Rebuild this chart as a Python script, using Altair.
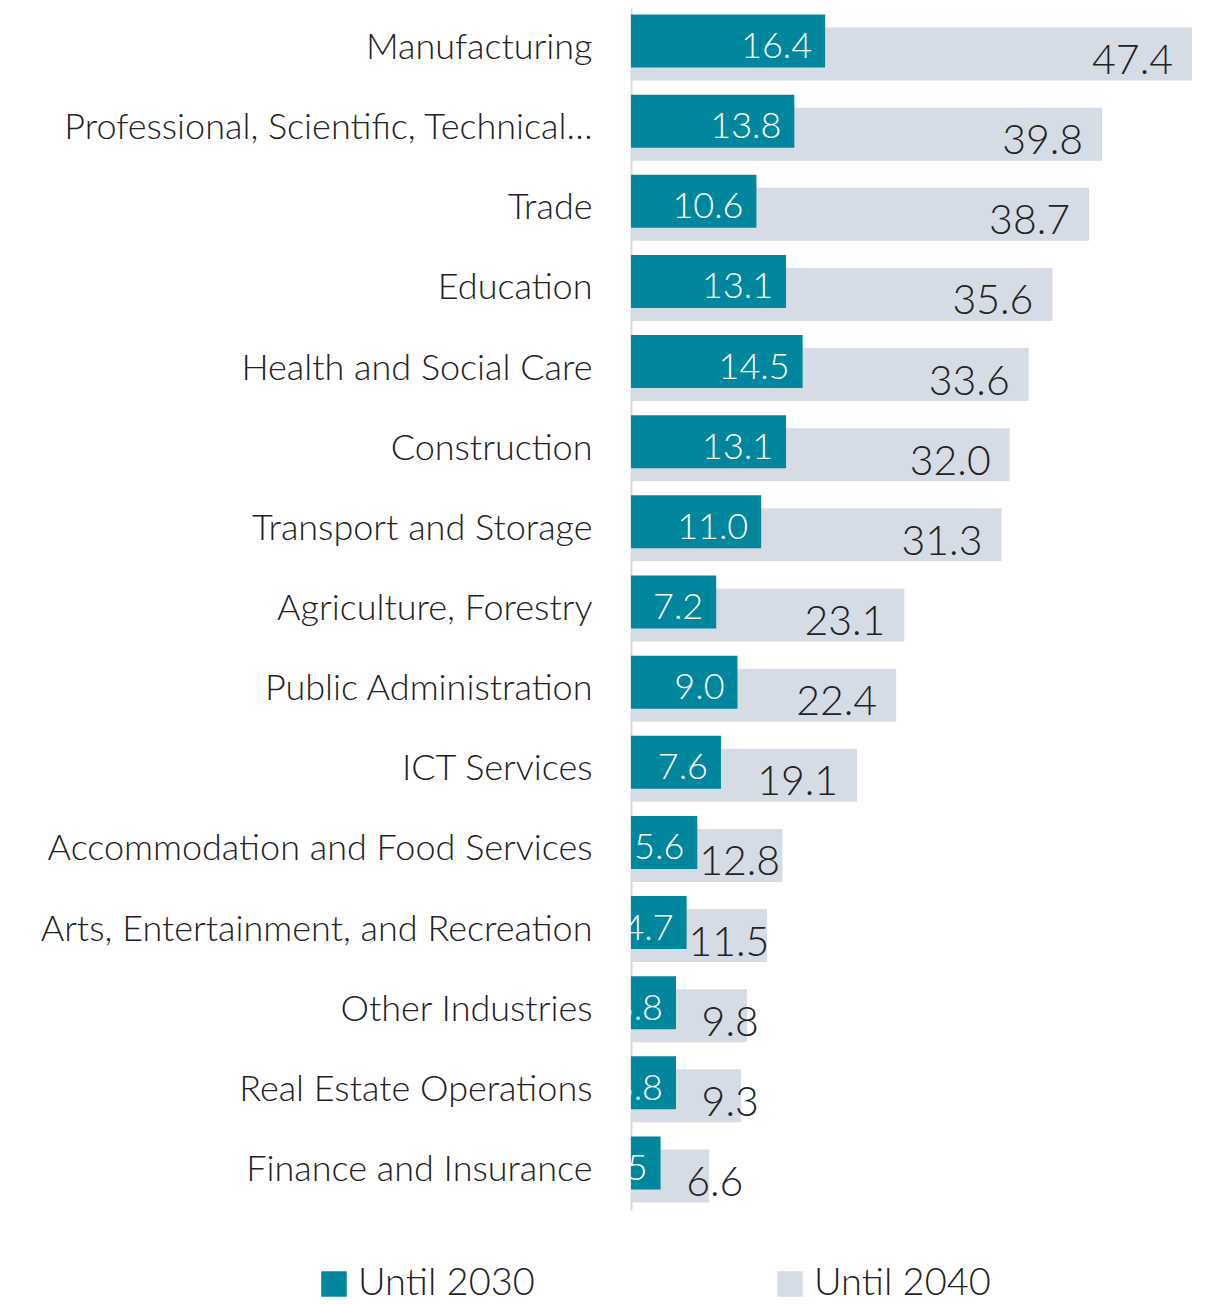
import altair as alt
import pandas as pd

categories = [
    "Manufacturing",
    "Professional, Scientific, Technical…",
    "Trade",
    "Education",
    "Health and Social Care",
    "Construction",
    "Transport and Storage",
    "Agriculture, Forestry",
    "Public Administration",
    "ICT Services",
    "Accommodation and Food Services",
    "Arts, Entertainment, and Recreation",
    "Other Industries",
    "Real Estate Operations",
    "Finance and Insurance",
]
until_2030 = [16.4, 13.8, 10.6, 13.1, 14.5, 13.1, 11.0, 7.2, 9.0, 7.6, 5.6, 4.7, 3.8, 3.8, 2.5]
until_2040 = [47.4, 39.8, 38.7, 35.6, 33.6, 32.0, 31.3, 23.1, 22.4, 19.1, 12.8, 11.5, 9.8, 9.3, 6.6]
series = ["Until 2030", "Until 2040"]
colors = ["#00879d", "#d6dce5"]

df = pd.DataFrame({"cat": categories, "v30": until_2030, "v40": until_2040})

FONT = "Lato"
W = 300
TXT = "#222222"

color_scale = alt.Scale(domain=series, range=colors)
legend = alt.Legend(
    orient="none", legendX=-316, legendY=1257, direction="horizontal", title=None,
    symbolType="square", symbolSize=650, symbolOpacity=1, symbolStrokeWidth=0,
    labelFontSize=38, labelFont=FONT, labelFontWeight=W, labelColor=TXT,
    labelOffset=5, labelLimit=400, columnPadding=236,
)

y = alt.Y(
    "cat:N", sort=categories,
    scale=alt.Scale(paddingInner=0, paddingOuter=0),
    axis=alt.Axis(
        title=None, ticks=False, grid=False, labelFontSize=36, labelFont=FONT,
        labelFontWeight=W, labelColor=TXT, labelPadding=39, labelLimit=0,
        domainColor="#d9d9d9", domainWidth=2,
    ),
)
xs = alt.Scale(domain=[0, 47.4], nice=False, zero=True)

base = alt.Chart(df)

grey_bars = base.mark_bar(size=53, yOffset=6).transform_calculate(s="'Until 2040'").encode(
    y=y, x=alt.X("v40:Q", scale=xs, axis=None),
    color=alt.Color("s:N", scale=color_scale, legend=legend),
)
teal_bars = base.mark_bar(size=53, yOffset=-7).transform_calculate(s="'Until 2030'").encode(
    y=y, x=alt.X("v30:Q", scale=xs, axis=None),
    color=alt.Color("s:N", scale=color_scale, legend=legend),
)
teal_text = base.mark_text(
    align="right", baseline="alphabetic", dx=-13, dy=10, fontSize=36,
    font=FONT, fontWeight=W, color="white", clip=True,
).encode(y=y, x=alt.X("v30:Q", scale=xs, axis=None), text=alt.Text("v30:Q", format=".1f"))

grey_text = base.mark_text(
    align="right", baseline="alphabetic", dx=-19, dy=26, fontSize=41,
    font=FONT, fontWeight=W, color=TXT,
).transform_calculate(lx="max(datum.v40, datum.v30 + 8.6)").encode(
    y=y, x=alt.X("lx:Q", scale=xs, axis=None), text=alt.Text("v40:Q", format=".1f")
)

chart = alt.layer(grey_bars, teal_bars, teal_text, grey_text).properties(
    width=561, height=1202, autosize="none",
    padding={"left": 623, "top": 0, "right": 21, "bottom": 95},
).configure_view(stroke=None)

chart.save("out.html", embed_options={"renderer": "svg", "actions": False})
